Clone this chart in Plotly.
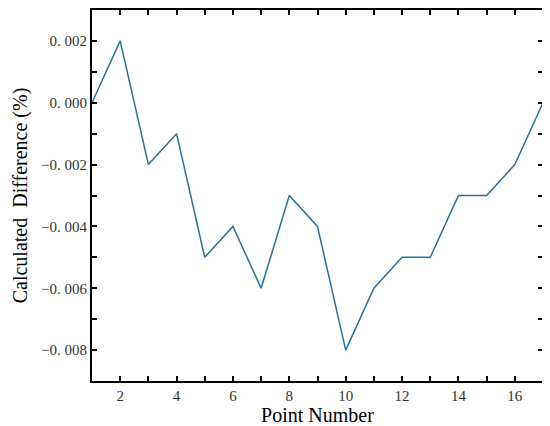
import plotly.graph_objects as go

# data
point_number = list(range(1, 18))
calc_diff = [0.000, 0.002, -0.002, -0.001, -0.005, -0.004, -0.006, -0.003, -0.004,
             -0.008, -0.006, -0.005, -0.005, -0.003, -0.003, -0.002, 0.000]

x_ticks = [2, 4, 6, 8, 10, 12, 14, 16]
x_minor = [3, 5, 7, 9, 11, 13, 15]
y_ticks = [0.002, 0.000, -0.002, -0.004, -0.006, -0.008]
y_minor = [0.001, -0.001, -0.003, -0.005, -0.007]
y_labels = ["0. 002", "0. 000", "\u22120. 002", "\u22120. 004", "\u22120. 006", "\u22120. 008"]

fig = go.Figure()
fig.add_trace(go.Scatter(
    x=point_number, y=calc_diff, mode="lines",
    line=dict(color="#26729c", width=1.5),
    showlegend=False,
))
# transparent copy on the top/right axes so that frame gets drawn with ticks
fig.add_trace(go.Scatter(
    x=point_number, y=calc_diff, mode="lines", xaxis="x2", yaxis="y2",
    line=dict(color="rgba(0,0,0,0)", width=1),
    showlegend=False, hoverinfo="skip",
))

font = "Liberation Serif"
axis_common = dict(
    showgrid=False, zeroline=False, automargin=False,
    showline=True, linecolor="black", linewidth=2,
    ticks="inside", ticklen=5, tickwidth=2, tickcolor="black",
    tickfont=dict(family=font, size=15, color="#333333"),
)
minor_style = dict(ticks="inside", ticklen=5, tickwidth=2, tickcolor="black")

fig.update_layout(
    xaxis=dict(
        range=[1, 17], tickvals=x_ticks,
        minor=dict(tickvals=x_minor, **minor_style),
        title=dict(text="Point Number", font=dict(family=font, size=20, color="black"), standoff=6),
        **axis_common,
    ),
    yaxis=dict(
        range=[-0.009, 0.003], tickvals=y_ticks, ticktext=y_labels,
        minor=dict(tickvals=y_minor, **minor_style),
        title=dict(text="Calculated  Difference (%)", font=dict(family=font, size=20, color="black"), standoff=8),
        **axis_common,
    ),
    xaxis2=dict(
        overlaying="x", side="top", range=[1, 17], tickvals=x_ticks,
        minor=dict(tickvals=x_minor, **minor_style), showticklabels=False,
        **axis_common,
    ),
    yaxis2=dict(
        overlaying="y", side="right", range=[-0.009, 0.003], tickvals=y_ticks,
        minor=dict(tickvals=y_minor, **minor_style), showticklabels=False,
        **axis_common,
    ),
)

# page body has an 8px margin, so the figure is shrunk to fit the window
fig.update_layout(
    width=542, height=418,
    margin=dict(l=84, r=7, t=2, b=45),
    plot_bgcolor="white", paper_bgcolor="white",
)

fig.write_html("out.html")
